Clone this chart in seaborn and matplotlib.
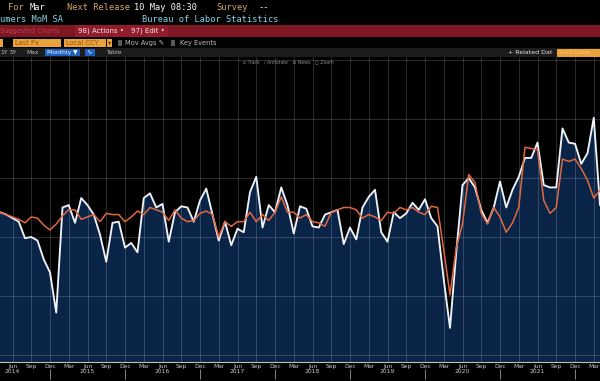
import numpy as np
import pandas as pd
import seaborn as sns
import matplotlib.pyplot as plt
from matplotlib.patches import Rectangle

# Monthly values, Apr 2014 .. Apr 2022 (MoM %)
months = pd.date_range("2014-04-01", "2022-04-01", freq="MS")

headline = [
    0.21, 0.19, 0.16, 0.13, -0.01, 0.00, -0.03, -0.19, -0.30,
    -0.64, 0.25, 0.27, 0.12, 0.33, 0.27, 0.19, 0.02, -0.21, 0.12, 0.13, -0.09,
    -0.05, -0.13, 0.33, 0.37, 0.25, 0.28, -0.04, 0.21, 0.26, 0.25, 0.13, 0.31,
    0.41, 0.19, -0.03, 0.13, -0.07, 0.07, 0.04, 0.38, 0.51, 0.08, 0.27, 0.21,
    0.42, 0.27, 0.03, 0.26, 0.24, 0.09, 0.08, 0.19, 0.21, 0.23, -0.06, 0.08,
    -0.02, 0.25, 0.34, 0.40, 0.04, -0.04, 0.21, 0.16, 0.20, 0.29, 0.23, 0.32,
    0.16, 0.09, -0.36, -0.77, -0.13, 0.44, 0.50, 0.42, 0.23, 0.12, 0.25, 0.47,
    0.25, 0.40, 0.51, 0.67, 0.67, 0.80, 0.44, 0.42, 0.42, 0.92, 0.80, 0.79,
    0.62, 0.71, 1.01, 0.27,
]
core = [
    0.21, 0.19, 0.17, 0.15, 0.12, 0.17, 0.16, 0.10, 0.06,
    0.11, 0.18, 0.23, 0.23, 0.15, 0.17, 0.19, 0.13, 0.20, 0.19, 0.19, 0.13,
    0.17, 0.22, 0.19, 0.25, 0.23, 0.21, 0.14, 0.23, 0.16, 0.13, 0.14, 0.20,
    0.22, 0.19, 0.00, 0.13, 0.09, 0.13, 0.13, 0.21, 0.13, 0.19, 0.14, 0.21,
    0.34, 0.21, 0.21, 0.16, 0.19, 0.13, 0.12, 0.09, 0.21, 0.23, 0.25, 0.25,
    0.23, 0.16, 0.19, 0.17, 0.14, 0.21, 0.20, 0.25, 0.23, 0.25, 0.21, 0.19,
    0.26, 0.25, -0.11, -0.49, -0.09, 0.11, 0.53, 0.46, 0.20, 0.11, 0.25, 0.17,
    0.04, 0.12, 0.25, 0.76, 0.75, 0.74, 0.31, 0.20, 0.25, 0.66, 0.64, 0.66,
    0.58, 0.48, 0.33, 0.40,
]
grid_levels = [-1.0, -0.5, 0.0, 0.5, 1.0, 1.5]

df = pd.DataFrame({"i": np.arange(len(months)), "date": months,
                   "headline": headline, "core": core})

sns.set_theme(style="dark", rc={"axes.facecolor": "black",
                                "figure.facecolor": "black"})
plt.rcParams["font.family"] = ["DejaVu Sans"]

W, H = 600, 381
fig = plt.figure(figsize=(6, 3.81), dpi=100)


def fx(x):
    return x / W


def fy(y):
    return 1 - y / H


def box(x0, y0, x1, y1, color):
    fig.add_artist(Rectangle((fx(x0), fy(y1)), (x1 - x0) / W, (y1 - y0) / H,
                             transform=fig.transFigure, color=color, lw=0))


def txt(x, y, s, color, size=6.2, family="DejaVu Sans Mono", **kw):
    fig.text(fx(x), fy(y), s, color=color, fontsize=size, family=family,
             ha="left", va="center", **kw)


ax = fig.add_axes([0, fy(362), 1, (362 - 57) / H])

# area under the headline series + both lines
ax.fill_between(df["i"], df["headline"], -2, color="#0a2447", lw=0, zorder=1)
sns.lineplot(data=df, x="i", y="headline", ax=ax, color="#eef2f7", lw=1.35,
             zorder=3)
sns.lineplot(data=df, x="i", y="core", ax=ax, color="#e0683f", lw=1.1,
             zorder=4)

ax.set_xlim(0.657, 95.44)
ax.set_ylim(-1.059, 1.525)
ax.set_xlabel("")
ax.set_ylabel("")

# quarterly ticks (Jun/Sep/Dec/Mar), year under each Jun
qpos = df["i"][2::3]
qlab = [d.strftime("%b") + ("\n" + d.strftime("%Y") if d.month == 6 else "")
        for d in df["date"][2::3]]
ax.set_xticks(qpos)
ax.set_xticklabels(qlab, fontsize=4.3, color="#c9c9c9", linespacing=1.1)
ax.set_xticks(df["i"], minor=True)
ax.tick_params(axis="x", which="major", length=0, pad=1.5)
ax.tick_params(axis="x", which="minor", length=1.5, width=0.5,
               color="#bbbbbb", direction="out")
ax.set_yticks(grid_levels)
ax.tick_params(axis="y", length=0, labelleft=False)
ax.set_axisbelow("line")
ax.grid(True, color="white", alpha=0.2, lw=0.6)
for side in ["top", "left", "right"]:
    ax.spines[side].set_visible(False)
ax.spines["bottom"].set_color("#bfbfbf")
ax.spines["bottom"].set_linewidth(0.8)

# year separators under the Dec labels
dec_pos = df["i"][df["date"].dt.month == 12]
ax.vlines(dec_pos, -0.024, -0.055, transform=ax.get_xaxis_transform(),
          clip_on=False, color="#9a9a9a", lw=0.6)

# terminal header
tan, cyan = "#d9a46a", "#86d4e2"
txt(8, 8, "For", tan)
txt(30, 8, "Mar", "white")
txt(67, 8, "Next Release", tan)
txt(134, 8, "10 May 08:30", "white")
txt(216, 8, "Survey", tan)
txt(258, 8, "--", "white")
txt(0, 20, "umers MoM SA", cyan)
txt(142, 20, "Bureau of Labor Statistics", cyan)

box(0, 25, 600, 37, "#7f1624")
box(75, 25, 168, 37, "#931c2c")
txt(0, 31, "Suggested Charts", "#b8404f", size=4.8, family="DejaVu Sans")
txt(78, 31, "98) Actions \u2022", "#f2e6e6", size=5, family="DejaVu Sans")
txt(131, 31, "97) Edit \u2022", "#f2e6e6", size=5, family="DejaVu Sans")

amber = "#eaa23a"
box(0, 39, 3, 47, amber)
box(13, 39, 61, 47, amber)
box(64, 39, 106, 47, amber)
box(107, 39, 112, 47, amber)
txt(15, 43, "Last Px", "#9a5410", size=4.8, family="DejaVu Sans")
txt(66, 43, "Local CCY", "#9a5410", size=4.8, family="DejaVu Sans")
txt(107.5, 43, "\u25be", "#6a3a08", size=4.5, family="DejaVu Sans")
box(118, 40.5, 122, 45.5, "#5a5a5a")
txt(125, 43, "Mov Avgs \u270e", "#bdbdbd", size=4.8, family="DejaVu Sans")
box(171, 40.5, 175, 45.5, "#5a5a5a")
txt(180, 43, "Key Events", "#bdbdbd", size=4.8, family="DejaVu Sans")

box(0, 48, 600, 57, "#1c1c1c")
txt(0, 52.5, "1Y", "#bdbdbd", size=4.3, family="DejaVu Sans")
txt(10, 52.5, "5Y", "#bdbdbd", size=4.3, family="DejaVu Sans")
txt(26, 52.5, "Max", "#bdbdbd", size=4.3, family="DejaVu Sans")
box(45, 49, 80, 56, "#1d5fc2")
txt(47, 52.5, "Monthly \u25bc", "white", size=4.3, family="DejaVu Sans")
box(85, 49, 95, 56, "#1d5fc2")
txt(86.5, 52.5, "\u223f", "white", size=4.5, family="DejaVu Sans")
txt(106, 52.5, "Table", "#bdbdbd", size=4.3, family="DejaVu Sans")
txt(508, 52.5, "+ Related Dat", "#e6e6e6", size=4.5, family="DejaVu Sans")
box(557, 49, 600, 57, amber)
txt(560, 53, "Add Data", "#f7c77a", size=4.5, family="DejaVu Sans")

txt(243, 62, "\u25ab Track   \u2215 Annotate   \u2261 News   \u25cb Zoom",
    "#8a8a8a", size=3.3, family="DejaVu Sans")

fig.savefig("out.png", dpi=100, facecolor="black")
